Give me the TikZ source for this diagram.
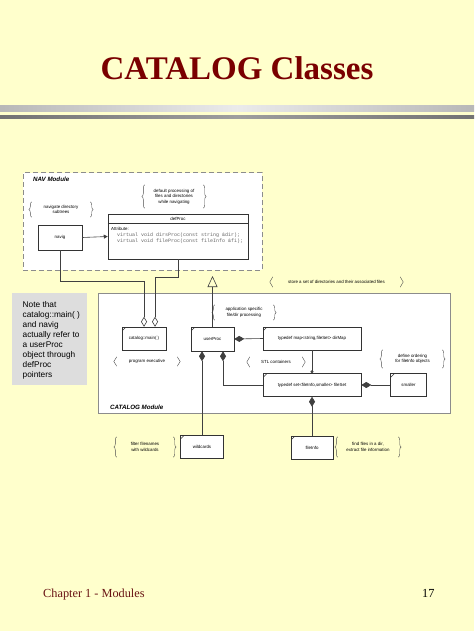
\documentclass[tikz,border=0pt]{standalone}
\usepackage{fontspec}
\setmainfont{Liberation Serif}
\setsansfont{Liberation Sans}
\setmonofont{Liberation Mono}
\usepackage{tikz}
\usetikzlibrary{shapes,arrows.meta,decorations.pathreplacing,positioning}

\definecolor{slidebg}{RGB}{255,255,204}
\definecolor{titlered}{RGB}{122,0,0}
\definecolor{footred}{RGB}{105,20,20}
\definecolor{notegray}{RGB}{221,221,221}
\definecolor{modgray}{RGB}{140,140,140}

\newcommand{\smalltxt}{\sffamily\fontsize{4.4}{5.5}\selectfont}
\newcommand{\codetxt}{\ttfamily\fontsize{5}{6}\selectfont}
\newcommand{\modtxt}{\sffamily\bfseries\itshape\fontsize{6.2}{7}\selectfont}

\tikzstyle{classbox} = [draw=black!80, fill=white, line width=0.5pt,
    rectangle, minimum height=23pt, inner sep=1pt, font=\smalltxt,
    path picture={\draw[line width=0.4pt]
      ([yshift=-4pt]path picture bounding box.north west) --
      ([xshift=4pt]path picture bounding box.north west);}]
\tikzstyle{plainbox} = [draw=black!80, fill=white, line width=0.5pt,
    rectangle, inner sep=1pt, font=\smalltxt]
\tikzstyle{bracenote} = [align=center, font=\smalltxt, inner sep=0pt]
\tikzstyle{brc} = [decorate, decoration={brace, amplitude=3pt},
    draw=black!70, line width=0.4pt]
\tikzstyle{link} = [draw=black!75, line width=0.6pt]
\tikzstyle{navmodule} = [draw=modgray, fill=white, line width=1pt,
    dash pattern=on 5pt off 3pt, rectangle]
\tikzstyle{catmodule} = [draw=modgray, fill=white, line width=0.9pt, rectangle]
\tikzstyle{modlabel} = [font=\modtxt, anchor=base west, inner sep=0pt]

\begin{document}
\begin{tikzpicture}[x=1pt, y=-1pt]
\useasboundingbox (0,0) rectangle (474,631);
\fill[slidebg] (0,0) rectangle (474,631);

% title and rules
\node[font=\bfseries\fontsize{33}{36}\selectfont, text=titlered,
  anchor=base, inner sep=0pt] (title) at (237,80) {CATALOG Classes};
\shade[left color=black!28, right color=black!28, middle color=black!8]
  (0,105.5) rectangle (474,112);
\shade[left color=black!55, right color=black!55, middle color=black!38]
  (0,115.5) rectangle (474,118.5);

% modules
\node[navmodule, minimum width=239pt, minimum height=97pt] (navmod) at (142.5,221.5) {};
\node[modlabel] (navlabel) at (33,182) {NAV Module};
\node[catmodule, minimum width=352pt, minimum height=120pt] (catmod) at (274,353) {};
\node[modlabel] (catlabel) at (110,409) {CATALOG Module};

% note on the left
\node[fill=notegray, minimum width=75pt, minimum height=92pt] (note) at (49.5,339) {};
\node[anchor=west, align=left, inner sep=0pt,
  font=\sffamily\fontsize{8.3}{9.9}\selectfont] (notetext) at (22.5,340.5)
  {Note that\\catalog::main( )\\and navig\\actually refer to\\a userProc\\object through\\defProc\\pointers};

% NAV classes
\node[plainbox, minimum width=44pt, minimum height=25pt] (navig) at (60,237.5) {navig};
\node[plainbox, minimum width=140pt, minimum height=45pt] (defProc) at (178,236.5) {};
\draw[black!80, line width=0.5pt] ([yshift=-9pt]defProc.north west) -- ([yshift=-9pt]defProc.north east);
\node[font=\smalltxt, inner sep=0pt] (defhead) at (178,218.5) {defProc};
\node[font=\smalltxt, inner sep=0pt, anchor=base west] (defattr) at (111,230.5) {Attribute:};
\node[font=\codetxt, text=black!60, inner sep=0pt, anchor=base west] (defcode1) at (117,236.5)
  {virtual void dirsProc(const string \&dir);};
\node[font=\codetxt, text=black!60, inner sep=0pt, anchor=base west] (defcode2) at (117,242.5)
  {virtual void fileProc(const fileInfo \&fi);};

% CATALOG classes
\node[classbox, minimum width=44pt] (catmain) at (144,338.5) {catalog::main( )};
\node[classbox, minimum width=43pt, minimum height=24pt] (userProc) at (212.5,339) {userProc};
\node[classbox, minimum width=98pt] (dirMap) at (312,338.5) {typedef map<string,fileSet> dirMap};
\node[classbox, minimum width=98pt, below=23pt of dirMap] (fileSet) {typedef set<fileInfo,smaller> fileSet};
\node[classbox, minimum width=36pt, right=29pt of fileSet] (smaller) {smaller};
\node[classbox, minimum width=42pt, below=39pt of fileSet] (fileInfo) {fileInfo};
\node[classbox, minimum width=43pt] (wildcards) at (202,446.5) {wildcards};

% notes with braces
\node[bracenote, minimum width=58pt, minimum height=15pt] (nnav) at (61,209.5) {navigate directory\\subtrees};
\node[bracenote, minimum width=58pt, minimum height=23pt] (ndef) at (174,196.5) {default processing of\\files and directories\\while navigating};
\node[bracenote, minimum width=127pt, minimum height=10pt] (nstore) at (336.5,282) {store a set of directories and their associated files};
\node[bracenote, minimum width=58pt, minimum height=15pt] (napp) at (244,312.5) {application specific\\file/dir processing};
\node[bracenote, minimum width=60pt, minimum height=9pt] (nexec) at (147,361.5) {program executive};
\node[bracenote, minimum width=52pt, minimum height=10pt] (nstl) at (276,362) {STL containers};
\node[bracenote, minimum width=59pt, minimum height=18pt] (norder) at (412.5,359) {define ordering\\for fileInfo objects};
\node[bracenote, minimum width=56pt, minimum height=20pt] (nfilter) at (145,447) {filter filenames\\with wildcards};
\node[bracenote, minimum width=60pt, minimum height=20pt] (nfind) at (368,447) {find files in a dir,\\extract file information};
\foreach \n in {nnav,ndef,nstore,napp,nexec,nstl,norder,nfilter,nfind} {
  \draw[brc] (\n.south west) -- (\n.north west);
  \draw[brc] (\n.north east) -- (\n.south east);
}

% connectors
\draw[link, -{Triangle[length=4pt,width=4pt]}] (navig.east) -- (defProc.west);
\draw[link, {Diamond[open,length=10pt,width=6pt]}-] (catmain.north) -- (144,281) -| (navig.south);
\draw[link, {Diamond[open,length=10pt,width=6pt]}-] ([xshift=11pt]catmain.north) -- (155,277) -| (defProc.south);
\coordinate (inh) at (212.5,276);
\draw[link, -{Triangle[open,length=11pt,width=10pt]}] (userProc.north) -- (inh);
\draw[link, {Diamond[length=10pt,width=6pt]}-] (userProc.east) -- (dirMap.west);
\draw[link, {Diamond[length=10pt,width=6pt]}-] ([xshift=-10.5pt]userProc.south) -- (wildcards.north);
\draw[link, {Diamond[length=10pt,width=6pt]}-] ([xshift=10.5pt]userProc.south) |- (fileSet.west);
\draw[link, -{Circle[length=3pt]}] (dirMap.south) -- (fileSet.north);
\draw[link, {Diamond[length=10pt,width=6pt]}-] (fileSet.east) -- (smaller.west);
\draw[link, {Diamond[length=10pt,width=6pt]}-] (fileSet.south) -- (fileInfo.north);

% footer
\node[anchor=base west, inner sep=0pt, text=footred, font=\fontsize{12.3}{14}\selectfont] (chapter) at (43,597) {Chapter 1 - Modules};
\node[anchor=base west, inner sep=0pt, font=\fontsize{12.3}{14}\selectfont] (pagenum) at (422,597) {17};
\end{tikzpicture}
\end{document}
